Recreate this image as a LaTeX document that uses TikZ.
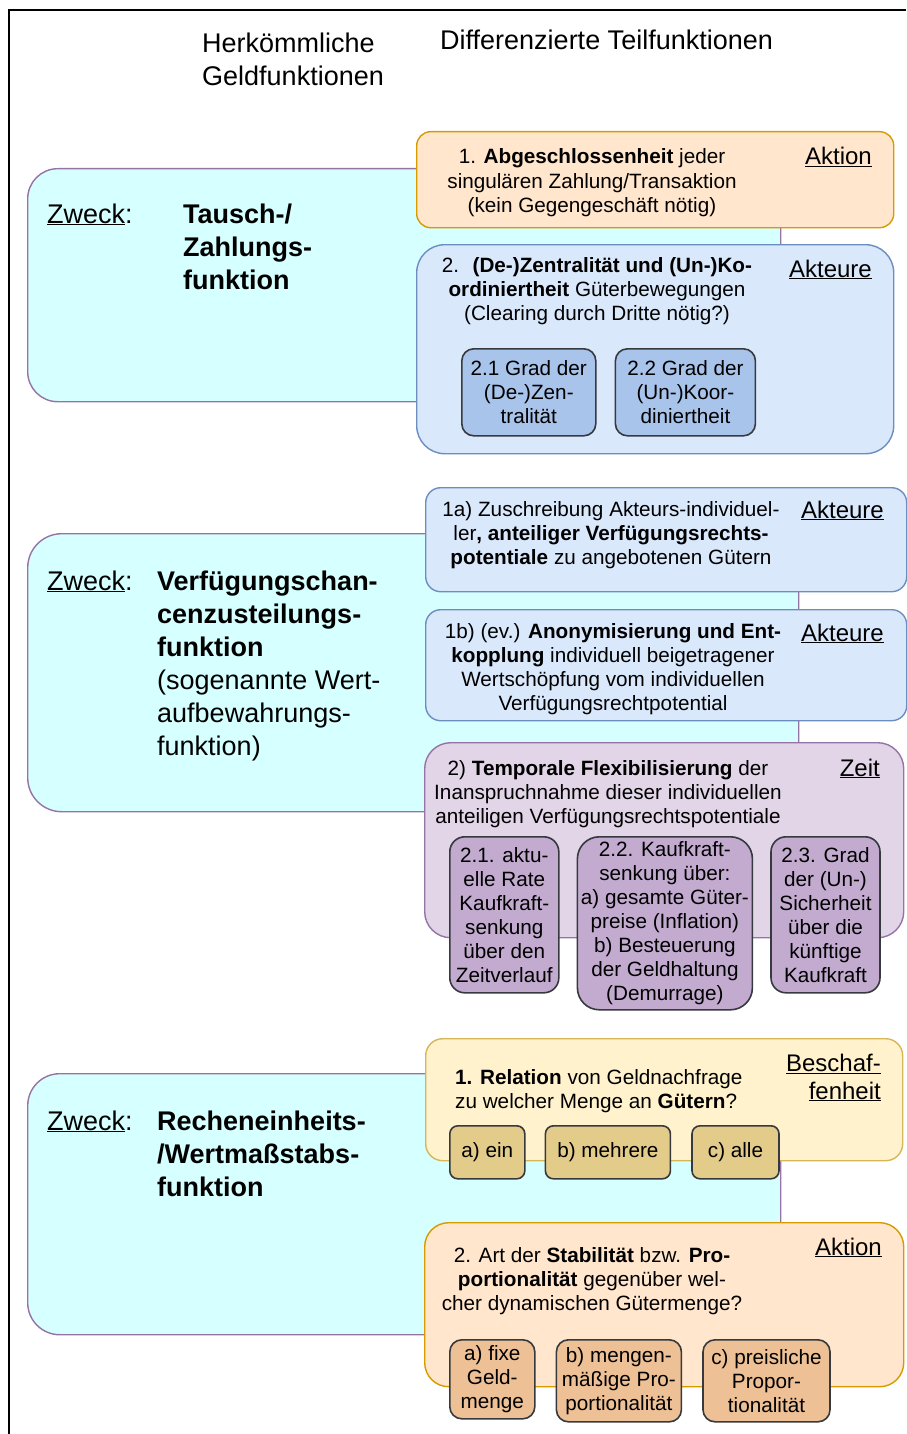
\documentclass[tikz,border=0pt]{standalone}
\usepackage{fontspec}
\setmainfont{Liberation Sans}
\usepackage{xcolor}
\usepackage{tikz}
\usetikzlibrary{positioning}

\definecolor{cyanfill}{HTML}{D6FFFF}
\definecolor{lilaline}{HTML}{9673A6}
\definecolor{orfill}{HTML}{FFE6CC}
\definecolor{orline}{HTML}{D79B00}
\definecolor{ordark}{HTML}{EDC096}
\definecolor{blfill}{HTML}{DAE8FC}
\definecolor{blline}{HTML}{6C8EBF}
\definecolor{bldark}{HTML}{A9C4EB}
\definecolor{lilafill}{HTML}{E1D5E7}
\definecolor{liladark}{HTML}{C3ABD0}
\definecolor{gefill}{HTML}{FFF2CC}
\definecolor{geline}{HTML}{D6B656}
\definecolor{gedark}{HTML}{E3CB8A}
\definecolor{subline}{HTML}{36393D}

\begin{document}
\begin{tikzpicture}[x=1pt, y=-1pt,
  zweckbox/.style={draw=lilaline, fill=cyanfill, line width=1.4pt, rounded corners=30pt, anchor=north west, inner sep=0pt},
  teilbox/.style={line width=1.4pt, anchor=north west, inner sep=0pt},
  subbox/.style={draw=subline, line width=1.6pt, anchor=north west, inner sep=1pt, align=center,
                 font=\fontsize{20.7pt}{24pt}\selectfont},
  txt/.style={inner sep=0pt, anchor=base, align=center, font=\fontsize{20.7pt}{24pt}\selectfont},
  big/.style={inner sep=0pt, anchor=base west, align=left, font=\fontsize{27pt}{33pt}\selectfont},
  tag/.style={inner sep=0pt, anchor=base east, align=right, font=\fontsize{24pt}{27.5pt}\selectfont}]
  \useasboundingbox (0,0) rectangle (906,1434);
  \draw[line width=2pt] (906,10) -| (9,1434);

  % Kopfzeile (base = letzte Zeile)
  \node[big] (herk) at (202,86) {Herkömmliche\\Geldfunktionen};
  \node[big] (diff) at (440,50) {Differenzierte Teilfunktionen};

  % Tausch-/Zahlungsfunktion
  \node[zweckbox, minimum width=753pt, minimum height=233pt] (tausch) at (27,168) {};
  \node[teilbox, draw=orline, fill=orfill, rounded corners=14pt, minimum width=477pt, minimum height=96pt] (abg) at (416,131) {};
  \node[teilbox, draw=blline, fill=blfill, rounded corners=28pt, minimum width=477pt, minimum height=209pt] (zentr) at (416,244) {};
  \node[subbox, fill=bldark, rounded corners=12pt, minimum width=134pt, minimum height=87pt] (grad1) at (461,348)
       {2.1 Grad der\\(De-)Zen-\\tralität};
  \node[subbox, fill=bldark, rounded corners=12pt, minimum width=140pt, minimum height=87pt, right=18pt of grad1] (grad2)
       {2.2 Grad der\\(Un-)Koor-\\diniertheit};
  \node[big] (zw1) at (47,223) {\underline{Zweck}:};
  \node[big] (tauschtitel) at (183,289) {\textbf{Tausch-/}\\\textbf{Zahlungs-}\\\textbf{funktion}};
  \node[txt] (abgtxt) at (592,212) {1. \textbf{Abgeschlossenheit} jeder\\singulären Zahlung/Transaktion\\(kein Gegengeschäft nötig)};
  \node[tag] (abgtag) at (872,165) {\underline{Aktion}};
  \node[txt] (zentrtxt) at (597,320) {2.~ \textbf{(De-)Zentralität und (Un-)Ko-}\\\textbf{ordiniertheit} Güterbewegungen\\(Clearing durch Dritte nötig?)};
  \node[tag] (zentrtag) at (872,277) {\underline{Akteure}};

  % Verfuegungschancenzuteilungsfunktion
  \node[zweckbox, rounded corners=34pt, minimum width=771pt, minimum height=278pt] (verf) at (27,533) {};
  \node[teilbox, draw=blline, fill=blfill, rounded corners=15pt, minimum width=481pt, minimum height=104pt] (zuschr) at (425,487) {};
  \node[teilbox, draw=blline, fill=blfill, rounded corners=15pt, minimum width=481pt, minimum height=111pt] (anon) at (425,609) {};
  \node[teilbox, draw=lilaline, fill=lilafill, rounded corners=26pt, minimum width=479pt, minimum height=195pt] (temp) at (424,742) {};
  \node[subbox, fill=liladark, rounded corners=15pt, minimum width=109pt, minimum height=156pt] (rate) at (449,836)
       {2.1. aktu-\\elle Rate\\Kaufkraft-\\senkung\\über den\\Zeitverlauf};
  \node[subbox, fill=liladark, rounded corners=22pt, minimum width=175pt, minimum height=173pt,
        right=17pt of rate.north east, anchor=north west] (senk)
       {2.2. Kaufkraft-\\senkung über:\\a) gesamte Güter-\\preise (Inflation)\\b) Besteuerung\\der Geldhaltung\\(Demurrage)};
  \node[subbox, fill=liladark, rounded corners=15pt, minimum width=109pt, minimum height=156pt,
        right=17pt of senk.north east, anchor=north west] (sicher)
       {2.3. Grad\\der (Un-)\\Sicherheit\\über die\\künftige\\Kaufkraft};
  \node[big] (zw2) at (47,590) {\underline{Zweck}:};
  \node[big] (verftitel) at (157,755) {\textbf{Verfügungschan-}\\\textbf{cenzusteilungs-}\\\textbf{funktion}\\(sogenannte Wert-\\aufbewahrungs-\\funktion)};
  \node[txt] (zuschrtxt) at (611,564) {1a) Zuschreibung Akteurs-individuel-\\ler\textbf{, anteiliger Verfügungsrechts-}\\\textbf{potentiale} zu angebotenen Gütern};
  \node[tag] (zuschrtag) at (884,518) {\underline{Akteure}};
  \node[txt] (anontxt) at (613,710) {1b) (ev.) \textbf{Anonymisierung und Ent-}\\\textbf{kopplung} individuell beigetragener\\Wertschöpfung vom individuellen\\Verfügungsrechtpotential};
  \node[tag] (anontag) at (884,641) {\underline{Akteure}};
  \node[txt] (temptxt) at (608,823) {2) \textbf{Temporale Flexibilisierung} der\\Inanspruchnahme dieser individuellen\\anteiligen Verfügungsrechtspotentiale};
  \node[tag] (temptag) at (880,776) {\underline{Zeit}};

  % Recheneinheits-/Wertmassstabsfunktion
  \node[zweckbox, rounded corners=32pt, minimum width=753pt, minimum height=261pt] (rechen) at (27,1073) {};
  \node[teilbox, draw=geline, fill=gefill, rounded corners=17pt, minimum width=477pt, minimum height=122pt] (relat) at (425,1038) {};
  \node[teilbox, draw=orline, fill=orfill, rounded corners=24pt, minimum width=479pt, minimum height=164pt] (stab) at (424,1222) {};
  \node[subbox, fill=gedark, rounded corners=8pt, minimum width=75pt, minimum height=53pt] (ein) at (449,1125) {a) ein};
  \node[subbox, fill=gedark, rounded corners=8pt, minimum width=125pt, minimum height=53pt, right=19pt of ein] (mehr) {b) mehrere};
  \node[subbox, fill=gedark, rounded corners=8pt, minimum width=87pt, minimum height=53pt, right=20pt of mehr] (alle) {c) alle};
  \node[subbox, fill=ordark, rounded corners=12pt, minimum width=85pt, minimum height=79pt] (fixe) at (449,1339)
       {a) fixe\\Geld-\\menge};
  \node[subbox, fill=ordark, rounded corners=12pt, minimum width=125pt, minimum height=82pt,
        right=20pt of fixe.north east, anchor=north west] (mengen)
       {b) mengen-\\mäßige Pro-\\portionalität};
  \node[subbox, fill=ordark, rounded corners=12pt, minimum width=127pt, minimum height=82pt,
        right=20pt of mengen.north east, anchor=north west] (preis)
       {c) preisliche\\Propor-\\tionalität};
  \node[big] (zw3) at (47,1130) {\underline{Zweck}:};
  \node[big] (rechentitel) at (157,1196) {\textbf{Recheneinheits-}\\\textbf{/Wertmaßstabs-}\\\textbf{funktion}};
  \node[txt, anchor=base west, align=left] (relattxt) at (455,1108) {\textbf{1. Relation} von Geldnachfrage\\zu welcher Menge an \textbf{Gütern}?};
  \node[tag] (relattag) at (881,1099) {\underline{Beschaf-}\\\underline{fenheit}};
  \node[txt] (stabtxt) at (592,1310) {2. Art der \textbf{Stabilität} bzw. \textbf{Pro-}\\\textbf{portionalität} gegenüber wel-\\cher dynamischen Gütermenge?};
  \node[tag] (stabtag) at (882,1255) {\underline{Aktion}};
\end{tikzpicture}
\end{document}
